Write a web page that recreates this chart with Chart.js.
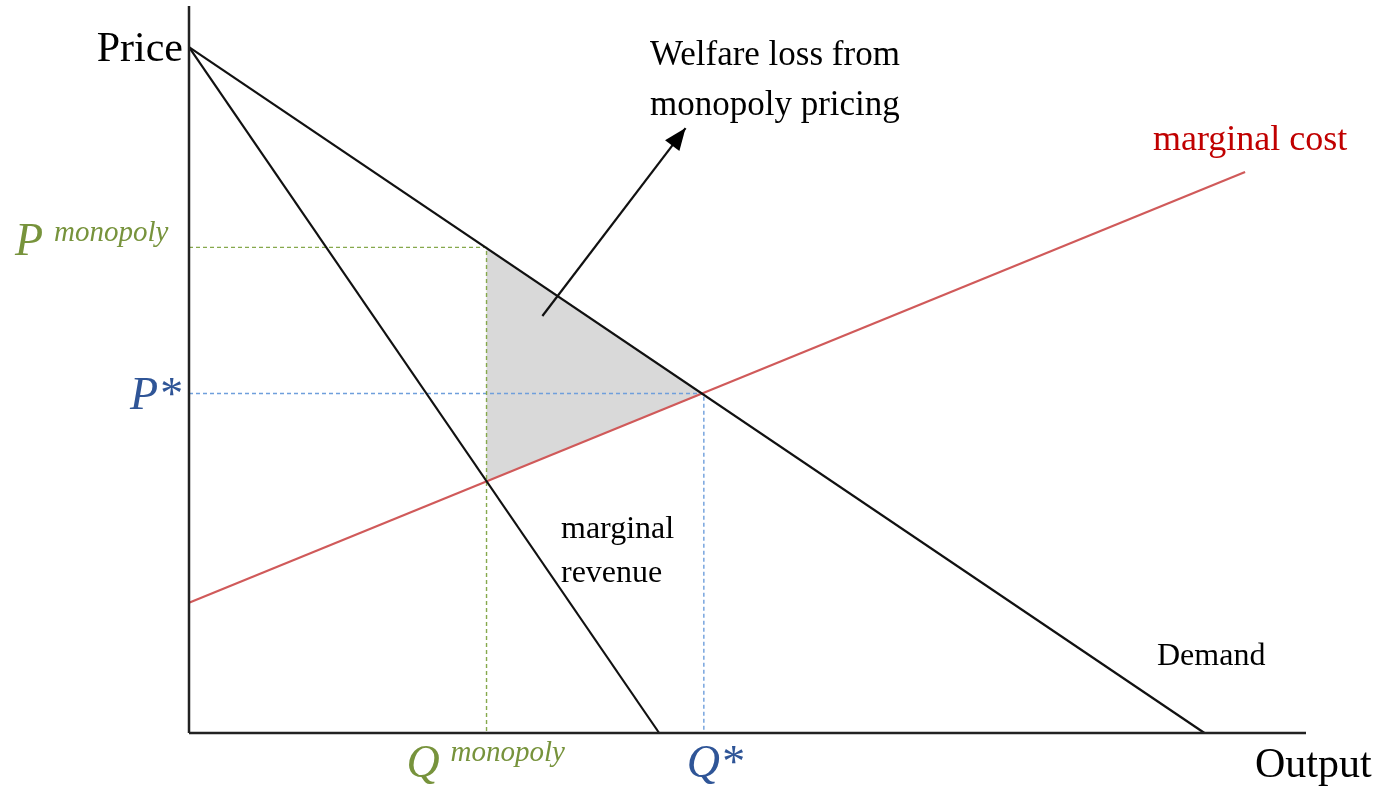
<!DOCTYPE html>
<html>
<head>
<meta charset="utf-8">
<script src="https://cdn.jsdelivr.net/npm/chart.js@4/dist/chart.umd.min.js"></script>
<style>
  html, body { margin: 0; padding: 0; background: #fff; }
  #wrap { width: 1384px; height: 792px; }
</style>
</head>
<body>
<div id="wrap"><canvas id="grafica" width="1384" height="792"></canvas></div>
<script>
// axis ranges (output, price)
const X_MAX = 110;
const Y_MAX = 106;

// curves
const demanda = [{ x: 0, y: 100 }, { x: 100, y: 0 }];
const ingresoMarginal = [{ x: 0, y: 100 }, { x: 46.3, y: 0 }];
const costoMarginal = [{ x: 0, y: 19 }, { x: 104, y: 81.8 }];

// equilibria
const Q_MONO = 29.3, P_MONO = 70.8, MC_MONO = 36.7;
const Q_STAR = 50.7, P_STAR = 49.5;

// welfare-loss triangle
const triangulo = [
  { x: Q_MONO, y: P_MONO },
  { x: Q_STAR, y: P_STAR },
  { x: Q_MONO, y: MC_MONO },
  { x: Q_MONO, y: P_MONO }
];

// arrow pointing at the label
const flecha = [{ x: 34.8, y: 60.8 }, { x: 48.9, y: 88.2 }];

const GREEN = "#77933c";
const BLUE = "#2f5597";
const SERIF = "'Liberation Serif', 'Times New Roman', serif";

const linea = (data, color, extra = {}) => ({
  data,
  showLine: true,
  borderColor: color,
  borderWidth: 2.2,
  pointRadius: 0,
  fill: false,
  tension: 0,
  clip: false,
  ...extra
});

const ds = [
  linea([{ x: 0, y: 0 }, { x: 0, y: Y_MAX }], "#222", { borderWidth: 2.5, order: 0 }),
  linea([{ x: 0, y: 0 }, { x: X_MAX, y: 0 }], "#222", { borderWidth: 2.5, order: 0 }),
  linea(demanda, "#111", { order: 1 }),
  linea(ingresoMarginal, "#111", { order: 1 }),
  linea(costoMarginal, "#d05a5a", { order: 1 }),
  linea([{ x: 0, y: P_MONO }, { x: Q_MONO, y: P_MONO }, { x: Q_MONO, y: 0 }], "#86a94c",
        { borderWidth: 1.4, borderDash: [4, 3], order: 2 }),
  linea([{ x: 0, y: P_STAR }, { x: Q_STAR, y: P_STAR }, { x: Q_STAR, y: 0 }], "#6f9fdc",
        { borderWidth: 1.4, borderDash: [4, 3], order: 2 }),
  linea(flecha, "#111", { order: 0 }),
  linea(triangulo, "rgba(0,0,0,0)", { borderWidth: 0, fill: "shape", backgroundColor: "#d9d9d9", order: 5 })
];

const etiquetas = {
  id: "etiquetas",
  afterDraw(chart) {
    const { ctx, scales: { x, y } } = chart;
    const px = v => x.getPixelForValue(v);
    const py = v => y.getPixelForValue(v);
    ctx.save();

    // arrow head
    const x0 = px(flecha[0].x), y0 = py(flecha[0].y);
    const x1 = px(flecha[1].x), y1 = py(flecha[1].y);
    const ang = Math.atan2(y1 - y0, x1 - x0);
    const L = 22, W = 9;
    ctx.fillStyle = "#000";
    ctx.beginPath();
    ctx.moveTo(x1, y1);
    ctx.lineTo(x1 - L * Math.cos(ang) + W * Math.sin(ang), y1 - L * Math.sin(ang) - W * Math.cos(ang));
    ctx.lineTo(x1 - L * Math.cos(ang) - W * Math.sin(ang), y1 - L * Math.sin(ang) + W * Math.cos(ang));
    ctx.closePath();
    ctx.fill();

    ctx.textBaseline = "alphabetic";

    // axis titles
    ctx.fillStyle = "#000";
    ctx.font = `42px ${SERIF}`;
    ctx.textAlign = "right";
    ctx.fillText("Price", px(0) - 6, py(100) + 14);
    ctx.textAlign = "left";
    ctx.fillText("Output", x.right - 51, 777);

    // annotation
    ctx.font = `35px ${SERIF}`;
    ctx.fillText("Welfare loss from", 650, 65);
    ctx.fillText("monopoly pricing", 650, 115);

    ctx.font = `32px ${SERIF}`;
    ctx.fillText("marginal", 561, 538);
    ctx.fillText("revenue", 561, 582);
    ctx.fillText("Demand", 1157, 665);

    ctx.fillStyle = "#c00000";
    ctx.font = `36px ${SERIF}`;
    ctx.fillText("marginal cost", 1153, 150);

    // P monopoly
    ctx.fillStyle = GREEN;
    ctx.font = `italic 46px ${SERIF}`;
    ctx.fillText("P", 15, py(P_MONO) + 8);
    ctx.font = `italic 29px ${SERIF}`;
    ctx.fillText("monopoly", 54, py(P_MONO) - 6);

    // P*
    ctx.fillStyle = BLUE;
    ctx.font = `italic 46px ${SERIF}`;
    ctx.textAlign = "right";
    ctx.fillText("P*", px(0) - 8, py(P_STAR) + 15);

    // Q monopoly
    ctx.textAlign = "left";
    ctx.fillStyle = GREEN;
    ctx.font = `italic 46px ${SERIF}`;
    ctx.fillText("Q", px(Q_MONO) - 80, 777);
    ctx.font = `italic 29px ${SERIF}`;
    ctx.fillText("monopoly", px(Q_MONO) - 36, 761);

    // Q*
    ctx.fillStyle = BLUE;
    ctx.font = `italic 46px ${SERIF}`;
    ctx.fillText("Q*", px(Q_STAR) - 17, 777);

    ctx.restore();
  }
};

new Chart(document.getElementById("grafica"), {
  type: "scatter",
  data: { datasets: ds },
  options: {
    responsive: false,
    animation: false,
    events: [],
    layout: { padding: { left: 189, right: 78, top: 6, bottom: 59 } },
    plugins: {
      legend: { display: false },
      tooltip: { enabled: false },
      title: { display: false }
    },
    scales: {
      x: { type: "linear", min: 0, max: X_MAX, display: false },
      y: { type: "linear", min: 0, max: Y_MAX, display: false }
    }
  },
  plugins: [etiquetas]
});
</script>
</body>
</html>
